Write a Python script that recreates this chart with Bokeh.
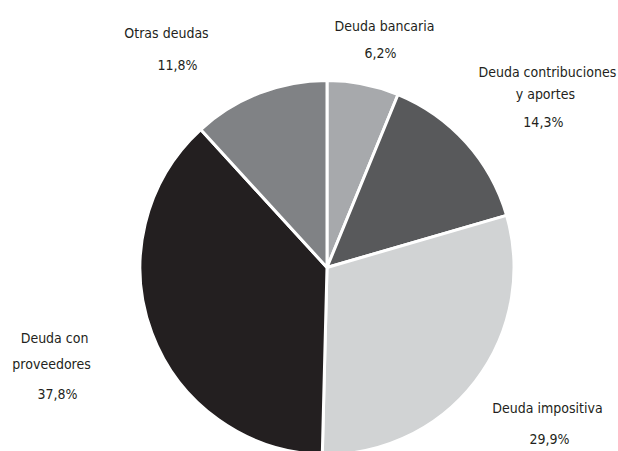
import math
from bokeh.plotting import figure
from bokeh.models import Range1d, ColumnDataSource
from bokeh.core.properties import value
from bokeh.embed import file_html
from bokeh.resources import INLINE

# ---- data ----
categories = ["Deuda bancaria", "Deuda contribuciones y aportes", "Deuda impositiva",
              "Deuda con proveedores", "Otras deudas"]
shares = [6.2, 14.3, 29.9, 37.8, 11.8]
pct_labels = ["6,2%", "14,3%", "29,9%", "37,8%", "11,8%"]
label_lines = [["Deuda bancaria"], ["Deuda contribuciones", "y aportes"], ["Deuda impositiva"],
               ["Deuda con", "proveedores"], ["Otras deudas"]]
colors = ["#a7a9ac", "#58595b", "#d1d3d4", "#231f20", "#808285"]

# ---- layout ----
W, H = 618, 451
CX, CY, R = 326.5, 184.0, 187.0
label_r = [248.7, 294.4, 261.2, 281.3, 283.8]
label_adj = [2.2, 0.4, -5.2, 6.1, -13.2]      # degrees, relative to slice middle
line2_dx = [0, -2, 0, -3, 0]
line2_dy = [0, 22, 0, 26, 0]
pct_dx = [-4, -4, 2, 3, 11]
pct_dy = [27, 50, 31, 56, 32]
FONT = "DejaVu Sans Condensed"
FSIZE = "14px"
TXT_COLOR = "#231f20"

total = sum(shares)
starts, ends, mids = [], [], []
c = 0.0
for s in shares:
    c0, c1 = c / total, (c + s) / total
    starts.append(math.pi / 2 - 2 * math.pi * c0)
    ends.append(math.pi / 2 - 2 * math.pi * c1)
    mids.append(360.0 * (c0 + c1) / 2)
    c += s

p = figure(width=W, height=H, x_range=Range1d(0, W), y_range=Range1d(0, H),
           output_backend="svg", toolbar_location=None, x_axis_location=None, y_axis_location=None,
           min_border=0, outline_line_color=None)
p.xgrid.visible = False
p.ygrid.visible = False

src = ColumnDataSource(dict(cat=categories, share=shares, start=starts, end=ends, color=colors))
p.wedge(x=CX, y=CY, radius=R, start_angle="start", end_angle="end", direction="clock",
        fill_color="color", line_color="white", line_width=3, source=src)

tx, ty, tt = [], [], []
for i, lines in enumerate(label_lines):
    th = math.radians(mids[i] + label_adj[i])
    x0 = CX + label_r[i] * math.sin(th)
    y0 = CY + label_r[i] * math.cos(th)
    tx.append(x0); ty.append(y0); tt.append(lines[0])
    if len(lines) > 1:
        tx.append(x0 + line2_dx[i]); ty.append(y0 - line2_dy[i]); tt.append(lines[1])
    tx.append(x0 + pct_dx[i]); ty.append(y0 - pct_dy[i]); tt.append(pct_labels[i])

p.text(x=tx, y=ty, text=tt, text_align="center", text_baseline="middle",
       text_font=value(FONT), text_font_size=FSIZE, text_color=TXT_COLOR)

open("out.html", "w").write(file_html(p, INLINE))
